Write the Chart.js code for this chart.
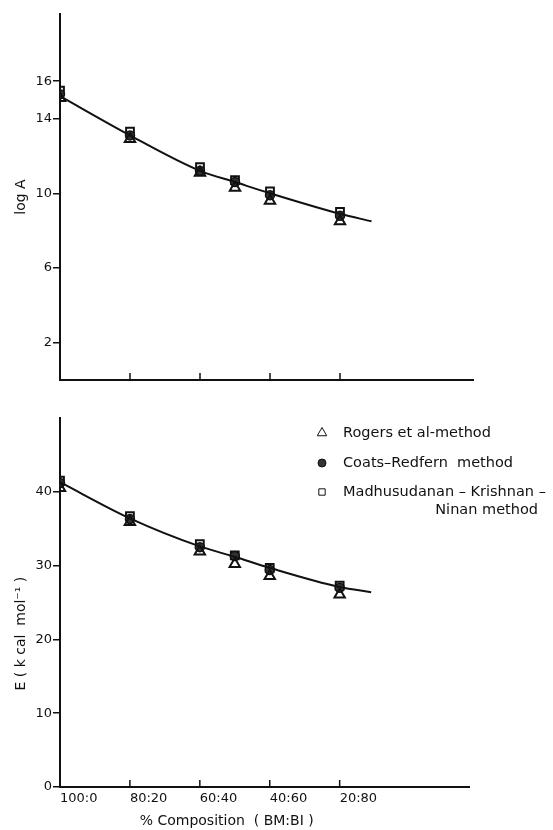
<!DOCTYPE html>
<html>
<head>
<meta charset="utf-8">
<script src="https://cdn.jsdelivr.net/npm/chart.js@4.4.1/dist/chart.umd.min.js"></script>
<style>
  body { margin: 0; background: #fff; }
  #wrap { position: relative; width: 553px; height: 830px; }
  #topBox { position: absolute; left: 0; top: 0; }
  #bottomBox { position: absolute; left: 0; top: 400px; }
</style>
</head>
<body>
<div id="wrap">
  <div id="topBox"><canvas id="logAChart" width="553" height="400"></canvas></div>
  <div id="bottomBox"><canvas id="energyChart" width="553" height="430"></canvas></div>
</div>
<script>
// x = % BI in the BM:BI blend
const composition = [0, 20, 40, 50, 60, 80];
const tickValues = [0, 20, 40, 60, 80];
const tickLabels = ['100:0', '80:20', '60:40', '40:60', '20:80'];

// log A
const logARogers = [15.1, 12.9, 11.1, 10.3, 9.6, 8.5];
const logACoats = [15.3, 13.1, 11.2, 10.6, 9.9, 8.8];
const logAMkn = [15.5, 13.3, 11.4, 10.7, 10.1, 9.0];
const logATicks = [2, 6, 10, 14, 16];

// E (kcal/mol)
const eRogers = [40.5, 35.9, 31.9, 30.2, 28.6, 26.1];
const eCoats = [41.2, 36.3, 32.5, 31.3, 29.4, 27.0];
const eMkn = [41.5, 36.7, 32.9, 31.4, 29.7, 27.3];
const eTicks = [0, 10, 20, 30, 40];

// smooth curves drawn through the points
const fitX = [0, 20, 40, 50, 60, 80, 89];
const logAFit = [15.2, 13.1, 11.2, 10.6, 10.0, 8.9, 8.5];
const eFit = [41.3, 36.4, 32.6, 31.2, 29.7, 27.1, 26.4];

const legendLabels = ['Rogers et al-method', 'Coats\u2013Redfern  method', ['Madhusudanan \u2013 Krishnan \u2013', 'Ninan method']];

Chart.defaults.font.family = 'DejaVu Sans';
Chart.defaults.color = '#111';

const ink = '#111';
const pts = (xs, ys) => xs.map((x, i) => ({x: x, y: ys[i]}));

function makeDatasets(rogers, coats, mkn, fit) {
    return [
        {
            type: 'line', label: 'fit', data: pts(fitX, fit),
            borderColor: ink, borderWidth: 2, pointRadius: 0,
            cubicInterpolationMode: 'monotone', fill: false
        },
        {
            label: legendLabels[0], data: pts(composition, rogers),
            pointStyle: 'triangle', pointRadius: 6, borderWidth: 2,
            borderColor: ink, backgroundColor: 'rgba(0,0,0,0)'
        },
        {
            label: legendLabels[1], data: pts(composition, coats),
            pointStyle: 'circle', pointRadius: 4.5, borderWidth: 1.5,
            borderColor: ink, backgroundColor: '#333'
        },
        {
            label: legendLabels[2], data: pts(composition, mkn),
            pointStyle: 'rect', pointRadius: 5.5, borderWidth: 2,
            borderColor: ink, backgroundColor: 'rgba(0,0,0,0)'
        }
    ];
}

// short tick marks pointing up into the plot from the x axis
const upTicks = {
    id: 'upTicks',
    afterDatasetsDraw(chart) {
        const {ctx, chartArea, scales: {x}} = chart;
        ctx.save();
        ctx.strokeStyle = ink;
        ctx.lineWidth = 1.5;
        x.ticks.forEach(t => {
            if (t.value === 0) return;
            const px = x.getPixelForValue(t.value);
            ctx.beginPath();
            ctx.moveTo(px, chartArea.bottom);
            ctx.lineTo(px, chartArea.bottom - 7);
            ctx.stroke();
        });
        ctx.restore();
    }
};

// legend in the upper right of the energy plot
const methodLegend = {
    id: 'methodLegend',
    afterDraw(chart) {
        const {ctx, chartArea} = chart;
        const markX = chartArea.left + 262;
        const textX = chartArea.left + 283;
        const rows = [15, 45, 74];
        const sizes = [5.5, 4, 4.5];
        ctx.save();
        ctx.font = '14.5px "DejaVu Sans"';
        ctx.textBaseline = 'middle';
        chart.data.datasets.slice(1).forEach((ds, i) => {
            const y = chartArea.top + rows[i];
            ctx.strokeStyle = ink;
            ctx.fillStyle = ds.backgroundColor;
            Chart.helpers.drawPoint(ctx, {pointStyle: ds.pointStyle, radius: sizes[i], rotation: 0, borderWidth: 2}, markX, y);
            ctx.fillStyle = ink;
            const lines = Array.isArray(ds.label) ? ds.label : [ds.label];
            ctx.textAlign = 'left';
            ctx.fillText(lines[0], textX, y);
            if (lines[1]) {
                ctx.textAlign = 'right';
                ctx.fillText(lines[1], chartArea.left + 478, y + 18);
            }
        });
        ctx.restore();
    }
};

function makeOptions(cfg) {
    return {
        responsive: false,
        animation: false,
        layout: {padding: {top: cfg.padTop, right: cfg.padRight, left: 0, bottom: 0}},
        plugins: {legend: {display: false}, tooltip: {enabled: false}},
        scales: {
            x: {
                type: 'linear', min: 0, max: cfg.xMax,
                afterBuildTicks: s => { s.ticks = tickValues.map(v => ({value: v})); },
                afterFit: s => { s.height = cfg.xHeight; },
                border: {display: true, color: ink, width: 2},
                grid: {display: true, drawOnChartArea: false, drawTicks: false},
                ticks: {
                    display: cfg.showXLabels, align: 'start', padding: 4,
                    font: {size: 13}, color: ink,
                    callback: v => tickLabels[tickValues.indexOf(v)]
                },
                title: {
                    display: cfg.showXLabels,
                    text: '% Composition  ( BM:BI )' + '\u0020'.repeat(17),
                    font: {size: 14}, color: ink, padding: {top: 0, bottom: 0}
                }
            },
            y: {
                min: 0, max: cfg.yMax,
                afterBuildTicks: s => { s.ticks = cfg.yTicks.map(v => ({value: v})); },
                afterFit: s => { s.width = 60; },
                border: {display: true, color: ink, width: 2},
                grid: {drawOnChartArea: false, drawTicks: true, tickLength: 7, color: ink, lineWidth: 1.5},
                ticks: {padding: 1, font: {size: 13}, color: ink},
                title: {
                    display: true, text: cfg.yTitle,
                    font: {size: 14}, color: ink, padding: {top: 13, bottom: 0}
                }
            }
        }
    };
}

new Chart(document.getElementById('logAChart'), {
    type: 'scatter',
    data: {datasets: makeDatasets(logARogers, logACoats, logAMkn, logAFit)},
    options: makeOptions({
        padTop: 14, padRight: 80, xMax: 118, xHeight: 20, showXLabels: false,
        yMax: 19.6, yTicks: logATicks, yTitle: 'log A'
    }),
    plugins: [upTicks]
});

new Chart(document.getElementById('energyChart'), {
    type: 'scatter',
    data: {datasets: makeDatasets(eRogers, eCoats, eMkn, eFit)},
    options: makeOptions({
        padTop: 18, padRight: 84, xMax: 117, xHeight: 43, showXLabels: true,
        yMax: 50, yTicks: eTicks, yTitle: 'E ( k cal  mol\u207B\u00B9 )' + '\u0020'.repeat(14)
    }),
    plugins: [upTicks, methodLegend]
});
</script>
</body>
</html>
